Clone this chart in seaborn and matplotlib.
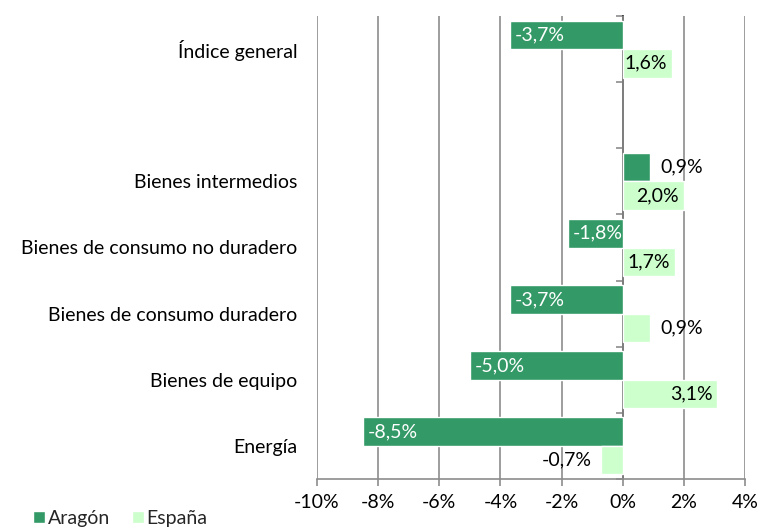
import matplotlib
matplotlib.use("Agg")
import matplotlib.pyplot as plt
from matplotlib.ticker import FuncFormatter, MultipleLocator
import seaborn as sns
import pandas as pd

# Interannual change of the industrial production index, by sector
categories = ["Índice general", " ", "Bienes intermedios",
              "Bienes de consumo no duradero", "Bienes de consumo duradero",
              "Bienes de equipo", "Energía"]
series_names = ["Aragón", "España"]
aragon = [-3.7, None, 0.9, -1.8, -3.7, -5.0, -8.5]
espana = [1.6, None, 2.0, 1.7, 0.9, 3.1, -0.7]
x_ticks = [-10, -8, -6, -4, -2, 0, 2, 4]

colors = {"Aragón": "#339966", "España": "#CCFFCC"}
FS = 14

rows = []
for cat, a, e in zip(categories, aragon, espana):
    if a is not None:
        rows.append({"cat": cat, "serie": "Aragón", "val": a})
    if e is not None:
        rows.append({"cat": cat, "serie": "España", "val": e})
df = pd.DataFrame(rows)

sns.set_theme(style="white")
plt.rcParams["font.family"] = ["Lato", "DejaVu Sans"]

fig = plt.figure(figsize=(7.58, 5.28), dpi=100)
ax = fig.add_axes([317 / 758, 1 - 479 / 528, 428 / 758, 463 / 528])

sns.barplot(data=df, y="cat", x="val", hue="serie", order=categories,
            hue_order=series_names, palette=colors, orient="h",
            width=0.86, saturation=1, ax=ax, legend=True, errorbar=None)

ax.set_xlim(x_ticks[0], x_ticks[-1])
ax.set_ylim(len(categories) - 0.5, -0.5)
ax.xaxis.set_major_locator(MultipleLocator(2))
ax.xaxis.set_major_formatter(FuncFormatter(lambda v, p: f"{int(round(v))}%"))
ax.set_xlabel("")
ax.set_ylabel("")

grid_c = "#8c8c8c"
ax.grid(axis="x", color=grid_c, linewidth=1.2)
ax.set_axisbelow(True)
for s in ["top", "right", "left"]:
    ax.spines[s].set_visible(False)
ax.spines["bottom"].set_color(grid_c)
ax.spines["bottom"].set_linewidth(1.2)
ax.tick_params(axis="x", direction="out", length=5, width=1.2, color=grid_c,
               labelsize=FS, labelcolor="black", pad=6, bottom=True)
ax.tick_params(axis="y", length=0, labelsize=FS, labelcolor="black", pad=14)

# Category axis drawn at zero with tick marks between groups
zero_frac = (0 - x_ticks[0]) / (x_ticks[-1] - x_ticks[0])
sec = ax.secondary_yaxis(zero_frac)
sec.set_yticks([i - 0.5 for i in range(len(categories) + 1)])
sec.set_yticklabels([])
sec.tick_params(direction="in", length=5, width=1.2, color=grid_c)
sec.spines["left"].set_color(grid_c)
sec.spines["left"].set_linewidth(1.2)

# Value labels: inside the bar end when it fits, otherwise just outside
bar_h = 0.43
for j, (name, vals) in enumerate(zip(series_names, [aragon, espana])):
    for i, v in enumerate(vals):
        if v is None:
            continue
        y = i + (j - 0.5) * bar_h
        txt = f"{v:.1f}".replace(".", ",") + "%"
        inside = abs(v) >= 1.5
        sign = 1 if v >= 0 else -1
        if inside:
            off = -5 * sign
            ha = "right" if v >= 0 else "left"
            col = "white" if name == "Aragón" else "black"
        else:
            off = 10 * sign
            ha = "left" if v >= 0 else "right"
            col = "black"
        ax.annotate(txt, xy=(v, y), xytext=(off, 0), textcoords="offset pixels",
                    ha=ha, va="center", fontsize=FS, color=col)

handles, labels = ax.get_legend_handles_labels()
ax.get_legend().remove()
fig.legend(handles, labels, loc="lower left",
           bbox_to_anchor=(33 / 758, 1 / 528), ncol=2, frameon=False,
           fontsize=FS, handlelength=0.62, handleheight=0.62,
           handletextpad=0.15, columnspacing=1.1, borderaxespad=0,
           borderpad=0)

fig.savefig("out.png", dpi=100)
